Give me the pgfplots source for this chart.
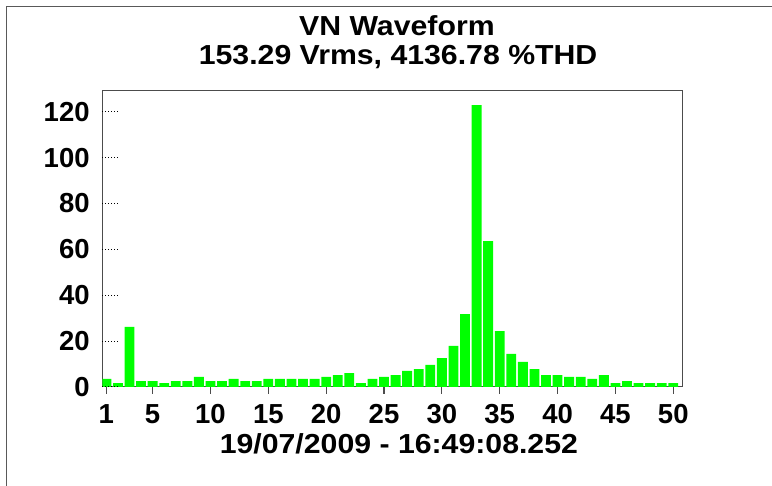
\documentclass[border=0pt]{standalone}
\usepackage{pgfplots}
\pgfplotsset{compat=1.18}
\usepackage{pgfplotstable}
\usepackage{fontspec}
\setmainfont{Liberation Sans}
\newfontfamily\widefont{Liberation Sans}[FakeStretch=1.1]

\definecolor{bargreen}{RGB}{0,255,0}

% harmonic order, magnitude
\pgfplotstableread{
h v
1 3.5
2 1.7
3 26.2
4 2.6
5 2.6
6 1.7
7 2.6
8 2.6
9 4.4
10 2.6
11 2.6
12 3.5
13 2.6
14 2.6
15 3.5
16 3.5
17 3.5
18 3.5
19 3.5
20 4.4
21 5.2
22 6.1
23 1.7
24 3.5
25 4.4
26 5.2
27 7.0
28 7.8
29 9.6
30 12.6
31 17.9
32 31.8
33 122.9
34 63.6
35 24.4
36 14.4
37 10.9
38 7.8
39 5.2
40 5.2
41 4.4
42 4.4
43 3.5
44 5.2
45 1.7
46 2.6
47 1.7
48 1.7
49 1.7
50 1.7
}\harmonics

\pgfplotsset{
    frameaxis/.style={
        at={(0,0)}, anchor=south west,
        scale only axis,
        width=290pt, height=148.15pt,
        xmin=0.65, xmax=50.78,
        ymin=0, ymax=129.2,
    },
}

\begin{document}
\begin{tikzpicture}
% main axis: bars, x ticks, labels
\begin{axis}[
    frameaxis,
    xtick={1,5,10,...,50},
    ytick={0,20,...,120},
    xtick pos=bottom,
    ytick pos=left,
    xtick align=outside,
    major tick length=3.5pt,
    axis line style={black!70, line width=0.5pt},
    x tick style={black!70, line width=0.6pt},
    y tick style={draw=none},
    /pgf/number format/assume math mode=true,
    ticklabel style={font=\fontsize{13.75}{16}\selectfont\bfseries, inner sep=0pt},
    xticklabel style={anchor=base, yshift=-14.75pt},
    yticklabel style={anchor=east, xshift=-6.15pt},
    xlabel={19/07/2009 - 16:49:08.252},
    xlabel style={at={(axis description cs:0.5,0)}, anchor=base, inner sep=0pt,
        yshift=-33.5pt, xshift=3.3pt, font=\widefont\fontsize{13.75}{16}\selectfont\bfseries},
]
\addplot[ybar, bar width=0.85, fill=bargreen, draw=none] table[x=h, y=v] {\harmonics};
\end{axis}
% overlay axis: dotted y ticks inside
\begin{axis}[
    frameaxis,
    axis line style={draw=none},
    xtick=\empty,
    ytick={0,20,...,120},
    yticklabels={},
    ytick pos=left,
    ytick align=inside,
    major tick length=8pt,
    y tick style={black, line width=0.5pt, dash pattern=on 0.5pt off 1pt},
]
\end{axis}
\node[anchor=base, inner sep=0pt, font=\widefont\fontsize{13.75}{16}\selectfont\bfseries]
    at (147.3pt,175.5pt) {VN Waveform};
\node[anchor=base, inner sep=0pt, font=\widefont\fontsize{13.75}{16}\selectfont\bfseries]
    at (147.9pt,161.25pt) {153.29 Vrms, 4136.78 \%THD};
\draw[black!65, line width=0.5pt] (-47.65pt,-60pt) -- (-47.65pt,190.15pt) -- (345pt,190.15pt);
\pgfresetboundingbox
\useasboundingbox (-51.15pt,-49.5pt) rectangle (334.85pt,193.5pt);
\end{tikzpicture}
\end{document}
